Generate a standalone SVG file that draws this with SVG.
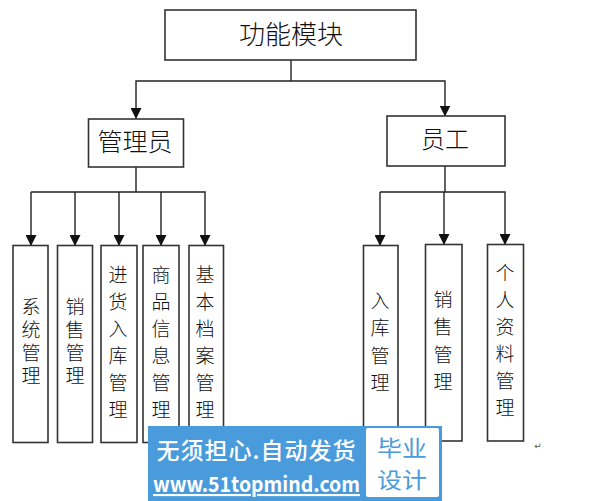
<svg xmlns="http://www.w3.org/2000/svg" width="591" height="501" viewBox="0 0 591 501">
<style>
.box{fill:#fff;stroke:#333;stroke-width:1.6}
.t{font-family:"Noto Sans CJK SC","Noto Sans",sans-serif;font-weight:300;fill:#111;text-anchor:middle;dominant-baseline:central;transform:translateY(-2px)}
.v{font-family:"Noto Sans CJK SC","Noto Sans",sans-serif;font-weight:300;fill:#111;text-anchor:middle;font-size:19px;writing-mode:vertical-rl;text-orientation:upright}
.c{fill:none;stroke:#222;stroke-width:1.4}
.w{font-family:"Noto Sans CJK SC","Noto Sans",sans-serif;text-anchor:middle;dominant-baseline:central}
</style>
<defs>
<marker id="d" viewBox="0 0 11 11" refX="10" refY="5.5" markerWidth="11" markerHeight="11" markerUnits="userSpaceOnUse" orient="auto">
<path d="M0,0L11,5.5L0,11Z" fill="#111"/>
</marker>
</defs>
<rect width="591" height="501" fill="#fff"/>
<g id="connectors" class="c">
<path d="M291,60V81"/>
<path d="M291,81H136V118" marker-end="url(#d)"/>
<path d="M291,81H445V115.500" marker-end="url(#d)"/>
<path d="M136,167V192"/>
<path d="M31,192H205V245" marker-end="url(#d)"/>
<path d="M75,192V245" marker-end="url(#d)"/>
<path d="M119,192V245" marker-end="url(#d)"/>
<path d="M161,192V245" marker-end="url(#d)"/>
<path d="M31,192V245" marker-end="url(#d)"/>
<path d="M445,166V192"/>
<path d="M380,192H505V244" marker-end="url(#d)"/>
<path d="M380,192V245" marker-end="url(#d)"/>
<path d="M444,192V244" marker-end="url(#d)"/>
</g>
<g id="node-root"><rect class="box" x="165" y="10" width="251" height="50"/><text class="t" x="291" y="34" font-size="26">功能模块</text></g>
<g id="node-admin"><rect class="box" x="88.500" y="119" width="95" height="48"/><text class="t" x="135" y="142" font-size="25">管理员</text></g>
<g id="node-staff"><rect class="box" x="387" y="116" width="118" height="50"/><text class="t" x="445" y="139" font-size="24">员工</text></g>
<g id="node-a1"><rect class="box" x="13" y="245.500" width="35" height="197"/><text class="v" x="31" y="343.500" letter-spacing="4">系统管理</text></g>
<g id="node-a2"><rect class="box" x="57.500" y="245.500" width="35" height="197"/><text class="v" x="75" y="343.500" letter-spacing="4">销售管理</text></g>
<g id="node-a3"><rect class="box" x="101" y="245.500" width="36" height="197"/><text class="v" x="118" y="346.500" letter-spacing="8">进货入库管理</text></g>
<g id="node-a4"><rect class="box" x="143" y="245.500" width="36" height="197"/><text class="v" x="161" y="346.500" letter-spacing="8">商品信息管理</text></g>
<g id="node-a5"><rect class="box" x="189" y="245.500" width="34.500" height="197"/><text class="v" x="205" y="346.500" letter-spacing="8">基本档案管理</text></g>
<g id="node-s1"><rect class="box" x="363.500" y="245.500" width="34.500" height="197"/><text class="v" x="380" y="346" letter-spacing="8.600">入库管理</text></g>
<g id="node-s2"><rect class="box" x="425.500" y="244.500" width="36.500" height="196.500"/><text class="v" x="443" y="345" letter-spacing="8.300">销售管理</text></g>
<g id="node-s3"><rect class="box" x="487.500" y="244.500" width="36" height="196.500"/><text class="v" x="505" y="344.500" letter-spacing="8">个人资料管理</text></g>
<text x="538" y="449" font-family="DejaVu Sans,sans-serif" font-size="9" fill="#555" text-anchor="middle">↵</text>
<g id="watermark">
<rect x="148" y="426" width="294" height="75" fill="#4a9bdc"/>
<rect x="366" y="428" width="73" height="69" rx="2" fill="#fff"/>
<text class="w" x="256" y="449" font-size="23" font-weight="500" fill="#fff" textLength="199" lengthAdjust="spacing">无须担心.自动发货</text>
<text class="w" x="256.500" y="483" font-size="21" font-weight="700" fill="#fff" text-decoration="underline" textLength="207" lengthAdjust="spacingAndGlyphs">www.51topmind.com</text>
<text class="w" x="402" y="446" font-size="22" font-weight="400" fill="#4a9bdc" textLength="50" lengthAdjust="spacingAndGlyphs">毕业</text>
<text class="w" x="402" y="478" font-size="22" font-weight="400" fill="#4a9bdc" textLength="50" lengthAdjust="spacingAndGlyphs">设计</text>
</g>
</svg>
